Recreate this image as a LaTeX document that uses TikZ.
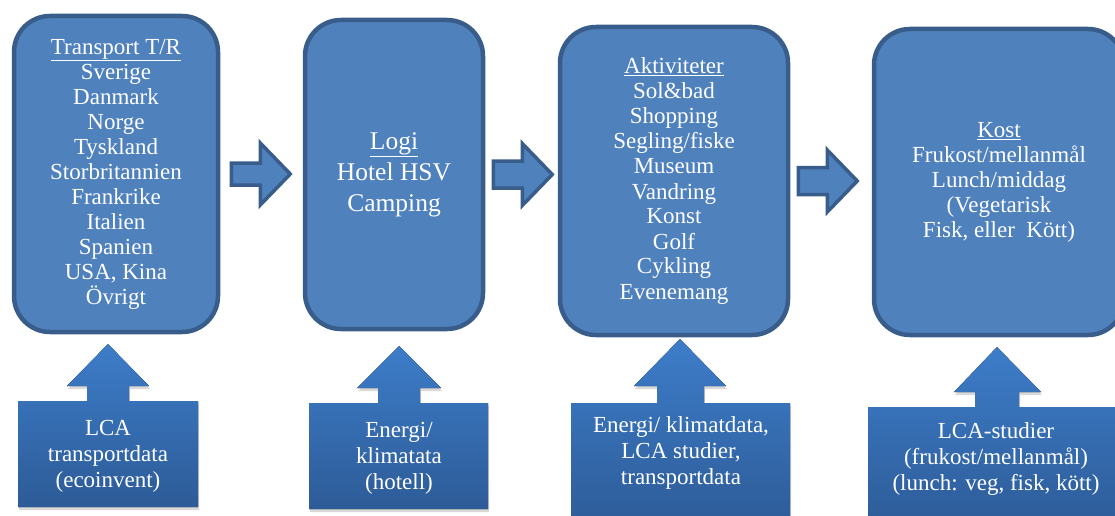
\documentclass[tikz,border=0pt]{standalone}
\usepackage{fontspec}
\setmainfont{Liberation Serif}
\usepackage{xcolor}
\usepackage{tikz}
\usetikzlibrary{calc,shadows}
\definecolor{boxfill}{HTML}{4F81BD}
\definecolor{boxline}{HTML}{385D8A}
\definecolor{calltop}{HTML}{3D7DC9}
\definecolor{callbot}{HTML}{2D5B97}

\begin{document}
\begin{tikzpicture}[x=1pt, y=-1pt]
    % Styles
    \tikzstyle{stage} = [draw=boxline, fill=boxfill, line width=4.5pt, rounded corners=36pt, text=white, align=center, inner sep=0pt, font=\fontsize{23}{25}\selectfont]
    \tikzstyle{blockarrow} = [draw=boxline, fill=boxfill, line width=3.5pt]
    \tikzstyle{callout} = [top color=calltop, bottom color=callbot, drop shadow={opacity=0.3, shadow xshift=1pt, shadow yshift=-3pt}]
    \tikzstyle{calltext} = [text=white, align=center, font=\fontsize{23}{26}\selectfont]

    % Frame (pixel coordinates, y pointing down)
    \useasboundingbox (0,0) rectangle (1115,516);

    % Main stages (top row)
    \node[stage, minimum width=204, minimum height=316] (trans) at (116,174) {\underline{Transport T/R}\\Sverige\\Danmark\\Norge\\Tyskland\\Storbritannien\\Frankrike\\Italien\\Spanien\\USA, Kina\\Övrigt};
    \node[stage, minimum width=178, minimum height=309, font=\fontsize{25.5}{31}\selectfont] (logi) at (394,174.5) {\underline{Logi}\\Hotel HSV\\Camping};
    \node[stage, minimum width=228, minimum height=308] (akt) at (674,181) {\underline{Aktiviteter}\\Sol\&bad\\Shopping\\Segling/fiske\\Museum\\Vandring\\Konst\\Golf\\Cykling\\Evenemang};
    \node[stage, minimum width=250, minimum height=306] (kost) at (999,182) {\underline{Kost}\\Frukost/mellanmål\\Lunch/middag\\(Vegetarisk\\Fisk, eller~~Kött)};

    % Block arrows between the stages
    \draw[blockarrow] ($(trans.east)+(11,-11)$) -- ++(29,0) -- ++(0,-20) -- ++(30,31) -- ++(-30,31) -- ++(0,-20) -- ++(-29,0) -- cycle;
    \draw[blockarrow] ($(logi.east)+(8,-13.5)$) -- ++(29,0) -- ++(0,-17.5) -- ++(30,31) -- ++(-30,31) -- ++(0,-17.5) -- ++(-29,0) -- cycle;
    \draw[blockarrow] ($(akt.east)+(8,-13.5)$) -- ++(29,0) -- ++(0,-17.5) -- ++(30,31) -- ++(-30,31) -- ++(0,-17.5) -- ++(-29,0) -- cycle;

    % Data sources (up arrow callouts, bottom row)
    % LCA transport -> Transport
    \fill[callout] (18,507) -- (18,401) -- (87,401) -- (87,386) -- (67,386) -- (108,344) -- (149,386) -- (129,386) -- (129,401) -- (198,401) -- (198,507) -- cycle;
    \node[calltext] (lcatr) at (108,456) {LCA\\transportdata\\(ecoinvent)};

    % Energi hotell -> Logi
    \fill[callout] (309,509) -- (309,403) -- (378,403) -- (378,388) -- (357,388) -- (399,346) -- (441,388) -- (420,388) -- (420,403) -- (488,403) -- (488,509) -- cycle;
    \node[calltext] (energi) at (399,458) {Energi/\\klimatata\\(hotell)};

    % Energi/LCA -> Aktiviteter
    \fill[callout] (571,530) -- (571,403) -- (657,403) -- (657,386) -- (634,386) -- (680,339) -- (726,386) -- (704,386) -- (704,403) -- (790,403) -- (790,530) -- cycle;
    \node[calltext] (aktdata) at (681,453) {Energi/ klimatdata,\\LCA studier,\\transportdata};

    % LCA-studier -> Kost
    \fill[callout] (868,530) -- (868,407) -- (975,407) -- (975,392) -- (954,392) -- (997,347) -- (1041,392) -- (1019,392) -- (1019,407) -- (1135,407) -- (1135,530) -- cycle;
    \node[calltext] (lcakost) at (996,459) {LCA-studier\\(frukost/mellanmål)\\(lunch: veg, fisk, kött)};
\end{tikzpicture}
\end{document}
